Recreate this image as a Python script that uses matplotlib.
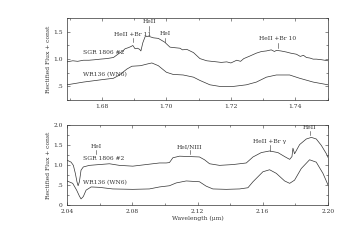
import matplotlib
matplotlib.use("Agg")
import matplotlib.pyplot as plt
from matplotlib.ticker import MultipleLocator, FixedLocator, FixedFormatter

plt.rcParams['font.family'] = ['DejaVu Serif']

# ---- top panel (H band) ----
top_sgr_w = [1.6692, 1.6710, 1.6725, 1.6743, 1.6760, 1.6780, 1.6795, 1.6815, 1.6836, 1.6852, 1.6865,
             1.6872, 1.6882, 1.6890, 1.6896, 1.6903, 1.6910, 1.6917, 1.6921, 1.6927, 1.6934, 1.6944,
             1.6960, 1.6975, 1.6995, 1.7011, 1.7025, 1.7042, 1.7050, 1.7063, 1.7084, 1.7104, 1.7125,
             1.7140, 1.7156, 1.7170, 1.7187, 1.7200, 1.7218, 1.7230, 1.7240, 1.7248, 1.7260, 1.7279,
             1.7295, 1.7310, 1.7325, 1.7335, 1.7341, 1.7355, 1.7372, 1.7385, 1.7403, 1.7415, 1.7425,
             1.7434, 1.7445, 1.7455, 1.7465, 1.7480, 1.7501]
top_sgr_f = [0.95, 0.97, 0.96, 0.98, 0.98, 0.99, 1.00, 1.01, 1.03, 1.10, 1.15,
             1.19, 1.21, 1.23, 1.25, 1.19, 1.20, 1.18, 1.15, 1.30, 1.41, 1.42,
             1.39, 1.38, 1.31, 1.22, 1.21, 1.20, 1.17, 1.18, 1.12, 1.01, 0.97,
             0.96, 0.95, 0.94, 0.95, 0.93, 0.98, 0.96, 1.01, 1.03, 1.06, 1.11,
             1.14, 1.15, 1.17, 1.14, 1.16, 1.15, 1.13, 1.11, 1.09, 1.05, 1.07,
             1.03, 1.02, 1.00, 1.00, 0.99, 0.97]
top_wr_w = [1.6692, 1.6743, 1.6795, 1.6836, 1.6852, 1.6878, 1.6893, 1.6920, 1.6940, 1.6955,
            1.6975, 1.7000, 1.7021, 1.7052, 1.7084, 1.7104, 1.7135, 1.7166, 1.7207, 1.7248,
            1.7279, 1.7310, 1.7341, 1.7382, 1.7413, 1.7455, 1.7501]
top_wr_f = [0.53, 0.58, 0.62, 0.65, 0.70, 0.82, 0.87, 0.88, 0.91, 0.93,
            0.88, 0.76, 0.72, 0.71, 0.67, 0.61, 0.53, 0.50, 0.50, 0.53,
            0.58, 0.67, 0.71, 0.71, 0.65, 0.58, 0.53]

# ---- bottom panel (K band) ----
bot_sgr_w = [2.0400, 2.0425, 2.0439, 2.0451, 2.0461, 2.0468, 2.0476, 2.0486, 2.0500, 2.0537,
             2.0598, 2.0660, 2.0721, 2.0803, 2.0885, 2.0967, 2.1008, 2.1028, 2.1049, 2.1090,
             2.1151, 2.1212, 2.1243, 2.1274, 2.1335, 2.1417, 2.1499, 2.1540, 2.1591, 2.1642,
             2.1693, 2.1734, 2.1765, 2.1779, 2.1785, 2.1795, 2.1826, 2.1867, 2.1898, 2.1928,
             2.1959, 2.1990, 2.2000]
bot_sgr_f = [1.12, 1.07, 0.99, 0.79, 0.58, 0.48, 0.58, 0.87, 0.95, 0.99,
             1.01, 1.03, 0.99, 0.97, 1.01, 1.05, 1.05, 1.06, 1.18, 1.22,
             1.21, 1.20, 1.13, 1.03, 0.99, 1.01, 1.05, 1.20, 1.31, 1.35,
             1.31, 1.21, 1.14, 1.21, 1.42, 1.28, 1.51, 1.65, 1.69, 1.65,
             1.49, 1.28, 1.19]
bot_wr_w = [2.0400, 2.0435, 2.0459, 2.0476, 2.0486, 2.0500, 2.0517, 2.0548, 2.0598, 2.0680,
            2.0803, 2.0905, 2.0967, 2.1028, 2.1069, 2.1131, 2.1212, 2.1253, 2.1294, 2.1376,
            2.1458, 2.1509, 2.1540, 2.1601, 2.1642, 2.1683, 2.1734, 2.1765, 2.1795, 2.1836,
            2.1887, 2.1928, 2.1969, 2.2000]
bot_wr_f = [0.60, 0.54, 0.37, 0.22, 0.15, 0.21, 0.37, 0.45, 0.44, 0.40,
            0.39, 0.40, 0.45, 0.48, 0.55, 0.60, 0.58, 0.47, 0.40, 0.39,
            0.40, 0.43, 0.58, 0.83, 0.88, 0.79, 0.60, 0.54, 0.62, 0.91,
            1.13, 1.07, 0.79, 0.50]

top_lines = [("HeII +Br 11", 1.6896, 1.32, 1.39, 1.45),
             ("HeII", 1.6946, 1.52, 1.61, 1.68),
             ("HeI", 1.6996, 1.32, 1.39, 1.47),
             ("HeII +Br 10", 1.7346, 1.21, 1.30, 1.38)]
bot_lines = [("HeI", 2.0578, 1.28, 1.38, 1.46),
             ("HeI/NIII", 2.1151, 1.28, 1.38, 1.46),
             ("HeII +Br γ", 2.1642, 1.36, 1.49, 1.59),
             ("HeII", 2.1888, 1.76, 1.86, 1.94)]

fs = 4.3
col = '#333333'
fig = plt.figure(figsize=(3.63, 2.49), dpi=100)
ax1 = fig.add_axes([0.1846, 0.598, 0.719, 0.329])
ax2 = fig.add_axes([0.1846, 0.177, 0.719, 0.321])

ax1.plot(top_sgr_w, top_sgr_f, color=col, lw=0.5)
ax1.plot(top_wr_w, top_wr_f, color=col, lw=0.5)
ax2.plot(bot_sgr_w, bot_sgr_f, color=col, lw=0.5)
ax2.plot(bot_wr_w, bot_wr_f, color=col, lw=0.5)

for ax, lines in ((ax1, top_lines), (ax2, bot_lines)):
    for name, x, y0, y1, yt in lines:
        ax.plot([x, x], [y0, y1], color=col, lw=0.4)
        ax.text(x, yt, name, fontsize=fs, ha='center', va='center', color=col)

ax1.text(1.6743, 1.12, "SGR 1806 #2", fontsize=fs, ha='left', va='center', color=col)
ax1.text(1.6743, 0.72, "WR136 (WN6)", fontsize=fs, ha='left', va='center', color=col)
ax2.text(2.0500, 1.16, "SGR 1806 #2", fontsize=fs, ha='left', va='center', color=col)
ax2.text(2.0500, 0.56, "WR136 (WN6)", fontsize=fs, ha='left', va='center', color=col)

ax1.set_xlim(1.6692, 1.7501)
ax1.set_ylim(0.25, 1.75)
ax1.xaxis.set_major_locator(FixedLocator([1.68, 1.70, 1.72, 1.74]))
ax1.xaxis.set_major_formatter(FixedFormatter(["1.68", "1.70", "1.72", "1.74"]))
ax1.xaxis.set_minor_locator(MultipleLocator(0.01))
ax1.yaxis.set_major_locator(FixedLocator([0.5, 1.0, 1.5]))
ax1.yaxis.set_major_formatter(FixedFormatter([".5", "1.0", "1.5"]))
ax1.yaxis.set_minor_locator(MultipleLocator(0.25))

ax2.set_xlim(2.04, 2.20)
ax2.set_ylim(0, 2.0)
ax2.xaxis.set_major_locator(FixedLocator([2.04, 2.08, 2.12, 2.16, 2.20]))
ax2.xaxis.set_major_formatter(FixedFormatter(["2.04", "2.08", "2.12", "2.16", "2.20"]))
ax2.xaxis.set_minor_locator(MultipleLocator(0.02))
ax2.yaxis.set_major_locator(FixedLocator([0, 0.5, 1.0, 1.5, 2.0]))
ax2.yaxis.set_major_formatter(FixedFormatter(["0", ".5", "1.0", "1.5", "2.0"]))
ax2.yaxis.set_minor_locator(MultipleLocator(0.25))

for ax in (ax1, ax2):
    ax.tick_params(which='both', direction='in', top=True, right=True, labelsize=fs,
                   width=0.4, colors=col, pad=3)
    ax.tick_params(which='major', length=2.5)
    ax.tick_params(which='minor', length=1.5)
    for s in ax.spines.values():
        s.set_linewidth(0.5)
        s.set_color(col)
    ax.set_ylabel("Rectified Flux + const", fontsize=fs, color=col, labelpad=1.5)

ax2.set_xlabel("Wavelength (μm)", fontsize=fs, color=col, labelpad=1)

fig.savefig("out.png", dpi=100)
